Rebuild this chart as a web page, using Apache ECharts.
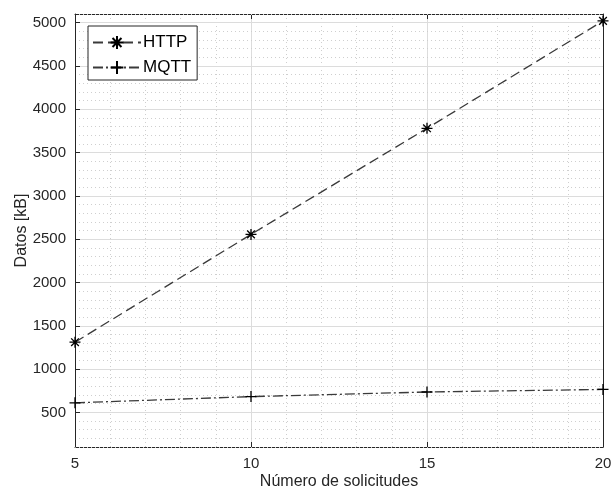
<!DOCTYPE html>
<html>
<head>
<meta charset="utf-8">
<script src="https://cdn.jsdelivr.net/npm/echarts@6/dist/echarts.min.js"></script>
<style>html,body{margin:0;padding:0;background:#fff}#c{width:611px;height:488px}</style>
</head>
<body>
<div id="c"></div>
<script>
const requests = [5, 10, 15, 20];
const httpData = [1310, 2555, 3780, 5020];
const mqttData = [610, 682, 735, 765];
const yTickLabels = [500, 1000, 1500, 2000, 2500, 3000, 3500, 4000, 4500, 5000];
const xTickLabels = [5, 10, 15, 20];

const FONT = 'Liberation Sans';
const AX = '#262626';
const asterisk = 'path://M5,0L5,10M0,5L10,5M1.5,1.5L8.5,8.5M8.5,1.5L1.5,8.5';
const plus = 'path://M5,0L5,10M0,5L10,5';

const chart = echarts.init(document.getElementById('c'), null, {renderer: 'canvas'});
const yBase = {type: 'value', min: 100, max: 5100, interval: 100};
const xBase = {type: 'value', min: 5, max: 20, interval: 5};
const plain = v => String(v);
chart.setOption({
  animation: false,
  textStyle: {fontFamily: FONT},
  grid: {left: 75, right: 8, top: 14, bottom: 41, containLabel: false, outerBoundsMode: 'none'},
  legend: {
    left: 88, top: 26, orient: 'vertical',
    backgroundColor: '#fff', borderColor: '#262626', borderWidth: 1,
    padding: [8, 6, 4, 4], itemGap: 8, itemWidth: 48, itemHeight: 16,
    textStyle: {fontSize: 17, color: '#000', fontFamily: FONT, padding: [0, 0, 0, -3]},
    data: ['HTTP', 'MQTT']
  },
  xAxis: [
    Object.assign({}, xBase, {
      position: 'bottom',
      name: 'Número de solicitudes', nameLocation: 'middle', nameGap: 27, nameMoveOverlap: false,
      nameTextStyle: {fontSize: 16, color: AX, fontFamily: FONT},
      axisLine: {show: true, onZero: false, lineStyle: {color: AX, width: 1}},
      axisTick: {show: true, inside: true, length: 5, lineStyle: {color: AX}, customValues: xTickLabels},
      axisLabel: {fontSize: 15, color: AX, margin: 9, customValues: xTickLabels, formatter: plain},
      splitLine: {show: true, lineStyle: {color: '#dcdcdc', width: 1}},
      minorTick: {show: false, splitNumber: 5},
      minorSplitLine: {show: true, lineStyle: {color: '#cfcfcf', type: [1, 3], width: 1}}
    }),
    Object.assign({}, xBase, {
      position: 'top',
      axisLine: {show: true, onZero: false, lineStyle: {color: AX, width: 1}},
      axisTick: {show: true, inside: true, length: 5, lineStyle: {color: AX}},
      axisLabel: {show: false}, splitLine: {show: false}
    })
  ],
  yAxis: [
    Object.assign({}, yBase, {
      position: 'left',
      name: 'Datos [kB]', nameLocation: 'middle', nameGap: 45, nameRotate: 90, nameMoveOverlap: false,
      nameTextStyle: {fontSize: 16, color: AX, fontFamily: FONT},
      axisLine: {show: true, onZero: false, lineStyle: {color: AX, width: 1}},
      axisTick: {show: true, inside: true, length: 5, lineStyle: {color: AX}, customValues: yTickLabels},
      axisLabel: {fontSize: 15, color: AX, margin: 9, customValues: yTickLabels, formatter: plain},
      splitLine: {show: true, lineStyle: {color: '#dcdcdc', width: 1}},
      z: 2
    }),
    Object.assign({}, yBase, {
      position: 'left',
      axisLine: {show: false}, axisTick: {show: false}, axisLabel: {show: false},
      splitLine: {show: true, lineStyle: {color: '#cfcfcf', type: [1, 3], width: 1}},
      z: 1
    }),
    Object.assign({}, yBase, {
      position: 'right',
      axisLine: {show: true, onZero: false, lineStyle: {color: AX, width: 1}},
      axisTick: {show: true, inside: true, length: 5, lineStyle: {color: AX}, customValues: yTickLabels},
      axisLabel: {show: false}, splitLine: {show: false}
    })
  ],
  series: [
    {
      name: 'HTTP', type: 'line', xAxisIndex: 0, yAxisIndex: 0,
      data: requests.map((x, i) => [x, httpData[i]]),
      symbol: asterisk, symbolSize: 11, showAllSymbol: true,
      lineStyle: {color: '#3a3a3a', width: 1.3, type: [10, 5]},
      itemStyle: {color: '#000', borderColor: '#000', borderWidth: 1.3},
      z: 5
    },
    {
      name: 'MQTT', type: 'line', xAxisIndex: 0, yAxisIndex: 0,
      data: requests.map((x, i) => [x, mqttData[i]]),
      symbol: plus, symbolSize: 11,
      lineStyle: {color: '#3a3a3a', width: 1.3, type: [10, 3, 2, 3]},
      itemStyle: {color: '#000', borderColor: '#000', borderWidth: 1.3},
      z: 5
    }
  ]
});
</script>
</body>
</html>
